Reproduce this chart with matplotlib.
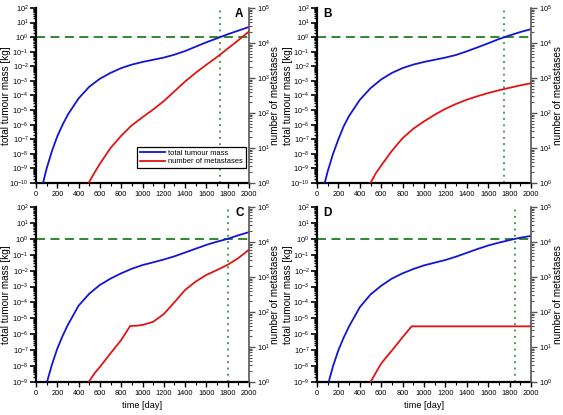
import numpy as np
import matplotlib
matplotlib.use("Agg")
import matplotlib.pyplot as plt
from matplotlib.ticker import LogLocator, FixedLocator, NullFormatter, MultipleLocator

plt.rcParams['font.family'] = ['Liberation Sans', 'DejaVu Sans']
plt.rcParams['mathtext.fontset'] = 'custom'
plt.rcParams['mathtext.rm'] = 'Liberation Sans'
plt.rcParams['mathtext.it'] = 'Liberation Sans:italic'
plt.rcParams['mathtext.bf'] = 'Liberation Sans:bold'

# ---------------- data (log10 values) ----------------
panel_labels = ["A", "B", "C", "D"]
legend_labels = ["total tumour mass", "number of metastases"]

tA_mass = [66, 100, 150, 200, 250, 300, 400, 500, 600, 700, 800, 900, 1000, 1100, 1200,
           1300, 1400, 1500, 1600, 1700, 1800, 1900, 2000]
A_mass_log10 = [-10, -9.0, -7.8, -6.8, -6.0, -5.3, -4.2, -3.4, -2.85, -2.45, -2.12, -1.88, -1.7,
                -1.55, -1.4, -1.2, -0.95, -0.65, -0.35, -0.08, 0.2, 0.45, 0.7]
tA_met = [494, 550, 600, 700, 800, 900, 1000, 1100, 1200, 1300, 1400, 1500, 1600, 1700, 1800, 1900, 2000]
A_met_log10 = [0, 0.3, 0.55, 1.0, 1.35, 1.65, 1.88, 2.1, 2.34, 2.62, 2.9, 3.15, 3.38, 3.6, 3.84, 4.08, 4.33]

tB_mass = [72, 100, 150, 200, 250, 300, 400, 500, 600, 700, 800, 900, 1000, 1100, 1200,
           1300, 1400, 1500, 1600, 1700, 1800, 1900, 2000]
B_mass_log10 = [-10, -9.2, -8.0, -7.0, -6.1, -5.4, -4.3, -3.5, -2.9, -2.45, -2.12, -1.88, -1.7,
                -1.55, -1.4, -1.22, -0.97, -0.7, -0.42, -0.13, 0.12, 0.35, 0.55]
tB_met = [500, 550, 600, 700, 800, 900, 1000, 1100, 1200, 1300, 1400, 1500, 1600, 1700, 1800, 1900, 2000]
B_met_log10 = [0, 0.28, 0.5, 0.92, 1.28, 1.55, 1.76, 1.95, 2.12, 2.26, 2.38, 2.48, 2.57, 2.65, 2.72, 2.79, 2.85]

tC_mass = [103, 150, 200, 250, 300, 400, 500, 600, 700, 800, 900, 1000, 1100, 1200,
           1300, 1400, 1500, 1600, 1700, 1800, 1900, 2000]
C_mass_log10 = [-9, -7.9, -6.9, -6.1, -5.4, -4.2, -3.45, -2.9, -2.5, -2.17, -1.88, -1.65, -1.48,
                -1.3, -1.1, -0.86, -0.62, -0.38, -0.18, 0.0, 0.22, 0.42]
tC_met = [494, 550, 600, 700, 800, 884, 950, 1000, 1100, 1200, 1300, 1400, 1500, 1600, 1700, 1800, 1900, 2000]
C_met_log10 = [0, 0.25, 0.43, 0.82, 1.2, 1.6, 1.61, 1.63, 1.72, 1.94, 2.28, 2.63, 2.87, 3.06, 3.2, 3.35, 3.54, 3.78]

tD_mass = [109, 150, 200, 250, 300, 400, 500, 600, 700, 800, 900, 1000, 1100, 1200,
           1300, 1400, 1500, 1600, 1700, 1800, 1900, 2000]
D_mass_log10 = [-9, -8.0, -7.0, -6.2, -5.5, -4.3, -3.5, -2.95, -2.5, -2.17, -1.9, -1.67, -1.5,
                -1.33, -1.12, -0.88, -0.64, -0.42, -0.24, -0.08, 0.07, 0.18]
tD_met = [500, 600, 700, 800, 884, 1000, 1200, 1400, 1600, 1800, 2000]
D_met_log10 = [0, 0.53, 0.9, 1.28, 1.59, 1.59, 1.59, 1.59, 1.59, 1.59, 1.59]

threshold_day = [1728, 1747, 1800, 1853]
threshold_mass = 1.0
left_ymin_exp = [-10, -10, -9, -9]
left_ymax_exp = 2
right_ymin_exp = 0
right_ymax_exp = 5
x_ticks = list(range(0, 2001, 200))

panels = [
    (tA_mass, A_mass_log10, tA_met, A_met_log10),
    (tB_mass, B_mass_log10, tB_met, B_met_log10),
    (tC_mass, C_mass_log10, tC_met, C_met_log10),
    (tD_mass, D_mass_log10, tD_met, D_met_log10),
]

# ---------------- layout ----------------
W, H = 563, 415
fig = plt.figure(figsize=(W / 100, H / 100), dpi=100)

def rect(l, r, t, b):
    return [l / W, (H - b) / H, (r - l) / W, (b - t) / H]

rects = [rect(36, 249, 8, 183), rect(317, 531, 8, 183),
         rect(36, 249, 207, 382), rect(317, 531, 207, 382)]
label_pos = [(0.953, 0.963), (0.05, 0.963), (0.958, 0.963), (0.05, 0.963)]
left_lab_x = [-0.142, -0.136, -0.142, -0.136]
right_lab_x = [1.12, 1.124, 1.12, 1.124]

blue = '#1414d2'
red = '#e01414'
green_dash = '#1f7f1f'
green_dot = '#2a9a2a'
tfs = 5.3
lfs = 7.2
gray = '#555555'

for i, (tm, mlog, tn, nlog) in enumerate(panels):
    ax = fig.add_axes(rects[i])
    ax2 = ax.twinx()
    ax.set_zorder(1)
    ax2.set_zorder(2)
    ax.patch.set_visible(False)

    ax.plot(tm, 10.0 ** np.array(mlog), color=blue, lw=1.3, zorder=3)
    ax2.plot(tn, 10.0 ** np.array(nlog), color=red, lw=1.3, zorder=3)

    ax.axhline(threshold_mass, color=green_dash, lw=1.3, dashes=(5, 3), zorder=2)
    ax.axvline(threshold_day[i], color=green_dot, lw=1.3, dashes=(1, 2.5), zorder=2)

    ax.set_xlim(0, 2000)
    ax.set_yscale('log')
    ax.set_ylim(10.0 ** left_ymin_exp[i], 10.0 ** left_ymax_exp)
    ax2.set_yscale('log')
    ax2.set_ylim(10.0 ** right_ymin_exp, 10.0 ** right_ymax_exp)

    lexps = list(range(left_ymin_exp[i], left_ymax_exp + 1))
    ax.yaxis.set_major_locator(FixedLocator([10.0 ** e for e in lexps]))
    ax.set_yticklabels([r'$10^{%d}$' % e for e in lexps])
    ax.yaxis.set_minor_locator(LogLocator(base=10, subs=np.arange(2, 10), numticks=50))
    ax.yaxis.set_minor_formatter(NullFormatter())

    rexps = list(range(right_ymin_exp, right_ymax_exp + 1))
    ax2.yaxis.set_major_locator(FixedLocator([10.0 ** e for e in rexps]))
    ax2.set_yticklabels([r'$10^{%d}$' % e for e in rexps])
    ax2.yaxis.set_minor_locator(LogLocator(base=10, subs=np.arange(2, 10), numticks=50))
    ax2.yaxis.set_minor_formatter(NullFormatter())

    ax.set_xticks(x_ticks)
    ax.set_xticklabels([str(v) for v in x_ticks])
    ax.xaxis.set_minor_locator(MultipleLocator(100))

    for a in (ax, ax2):
        a.spines['top'].set_visible(False)
    ax.spines['left'].set_linewidth(1.6)
    ax.spines['bottom'].set_linewidth(1.6)
    ax.spines['right'].set_visible(False)
    ax2.spines['left'].set_visible(False)
    ax2.spines['bottom'].set_visible(False)
    ax2.spines['right'].set_color(gray)
    ax2.spines['right'].set_linewidth(1.2)

    ax.tick_params(axis='y', which='major', direction='out', length=4, width=1.2, labelsize=tfs, pad=1.5)
    ax.tick_params(axis='y', which='minor', direction='out', length=2.5, width=1.0)
    ax.tick_params(axis='x', which='major', direction='out', length=3.5, width=1.0, labelsize=tfs, pad=2)
    ax.tick_params(axis='x', which='minor', direction='out', length=2, width=0.8)
    ax2.tick_params(axis='y', which='major', direction='out', length=4, width=1.0, labelsize=tfs,
                    color=gray, pad=1.5)
    ax2.tick_params(axis='y', which='minor', direction='out', length=2.5, width=0.8, color=gray)

    ax.set_ylabel('total tumour mass [kg]', fontsize=lfs)
    ax.yaxis.set_label_coords(left_lab_x[i], 0.5)
    ax.yaxis.label.set_va('center')
    ax2.set_ylabel('number of metastases', fontsize=lfs)
    ax2.yaxis.set_label_coords(right_lab_x[i], 0.5)
    ax2.yaxis.label.set_va('center')
    if i >= 2:
        ax.set_xlabel('time [day]', fontsize=6.6, labelpad=3)

    ax2.text(label_pos[i][0], label_pos[i][1], panel_labels[i], transform=ax.transAxes,
             fontsize=8.5, fontweight='bold', ha='center', va='center', zorder=5)

    if i == 0:
        h1, = ax.plot([], [], color=blue, lw=1.3)
        h2, = ax2.plot([], [], color=red, lw=1.3)
        leg = ax2.legend([h1, h2], legend_labels, loc='lower right', bbox_to_anchor=(0.985, 0.086),
                         prop={'size': 5.4}, frameon=True, fancybox=False, handlelength=3.4,
                         borderpad=0.35, labelspacing=0.2, handletextpad=0.4, borderaxespad=0)
        leg.get_frame().set_edgecolor('black')
        leg.get_frame().set_linewidth(0.9)
        leg.get_frame().set_alpha(1)

fig.savefig('out.png', dpi=100)
